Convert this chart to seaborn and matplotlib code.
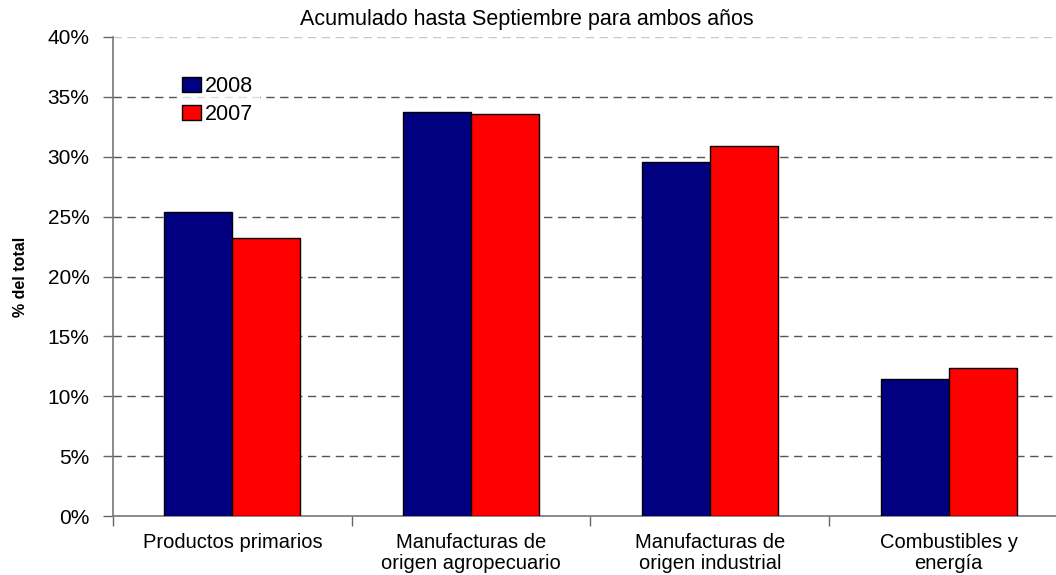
import matplotlib
matplotlib.use("Agg")
import matplotlib.pyplot as plt
import seaborn as sns
import pandas as pd
import numpy as np

categories = ["Productos primarios", "Manufacturas de\norigen agropecuario",
              "Manufacturas de\norigen industrial", "Combustibles y\nenergía"]
years = ["2008", "2007"]
values_2008 = [25.4, 33.7, 29.6, 11.4]
values_2007 = [23.2, 33.6, 30.9, 12.4]
yticks = [0, 5, 10, 15, 20, 25, 30, 35, 40]
title = "Acumulado hasta Septiembre para ambos años"
ylabel = "% del total"

sns.set_theme(style="white")
plt.rcParams['font.family'] = ['Liberation Sans', 'DejaVu Sans']
plt.rcParams['text.color'] = 'black'
plt.rcParams['xtick.color'] = 'black'
plt.rcParams['ytick.color'] = 'black'
plt.rcParams['axes.labelcolor'] = 'black'

df = pd.DataFrame({
    "cat": categories * 2,
    "year": [years[0]] * 4 + [years[1]] * 4,
    "val": values_2008 + values_2007,
})

W, H = 1056, 575
fig = plt.figure(figsize=(W / 100, H / 100), dpi=100)
ax = fig.add_axes([113 / W, (H - 516) / H, (1068 - 113) / W, (516 - 37) / H])

sns.barplot(data=df, x="cat", y="val", hue="year", hue_order=years,
            palette={"2008": "#000080", "2007": "#FF0000"}, saturation=1,
            width=0.57, edgecolor="black", linewidth=1.0, ax=ax, zorder=3,
            legend=True)

ax.set_xlim(-0.5, 3.5)
ax.set_ylim(0, 40)

# grid lines
for v in yticks[1:]:
    col = "#c8c8c8" if v == 40 else "#555555"
    ax.axhline(v, color=col, linestyle=(0, (6, 4)), linewidth=1.0, zorder=1)

ax.set_yticks(yticks)
ax.set_yticklabels([f"{v}%" for v in yticks], fontsize=15)
ax.set_xticks([-0.5, 0.5, 1.5, 2.5, 3.5])
ax.set_xticklabels([])
ax.set_xticks(range(4), minor=True)
ax.set_xticklabels(categories, minor=True, fontsize=14.5, linespacing=1.15)
ax.tick_params(axis="x", which="minor", length=0, pad=12)
ax.tick_params(axis="x", which="major", length=7, width=1, color="#666666", direction="out", bottom=True)
ax.tick_params(axis="y", length=7, width=1, color="#666666", direction="out", left=True, pad=10)

for s in ["top", "right"]:
    ax.spines[s].set_visible(False)
for s in ["left", "bottom"]:
    ax.spines[s].set_color("#777777")
    ax.spines[s].set_linewidth(1.2)

ax.set_xlabel("")
ax.set_ylabel(ylabel, fontsize=11.5, fontweight="bold", labelpad=14)

leg = ax.legend(loc="upper left", bbox_to_anchor=(64 / 955, 1 - 34 / 479),
                frameon=True, fontsize=15.5, handlelength=0.85, handleheight=0.7,
                handletextpad=0.2, borderpad=0.25, labelspacing=0.3,
                fancybox=False, borderaxespad=0)
leg.get_frame().set_edgecolor("white")
leg.get_frame().set_facecolor("white")
leg.set_zorder(5)

fig.text(527 / W, 1 - 19 / H, title, ha="center", va="center", fontsize=15.5)

fig.savefig("out.png", dpi=100)
